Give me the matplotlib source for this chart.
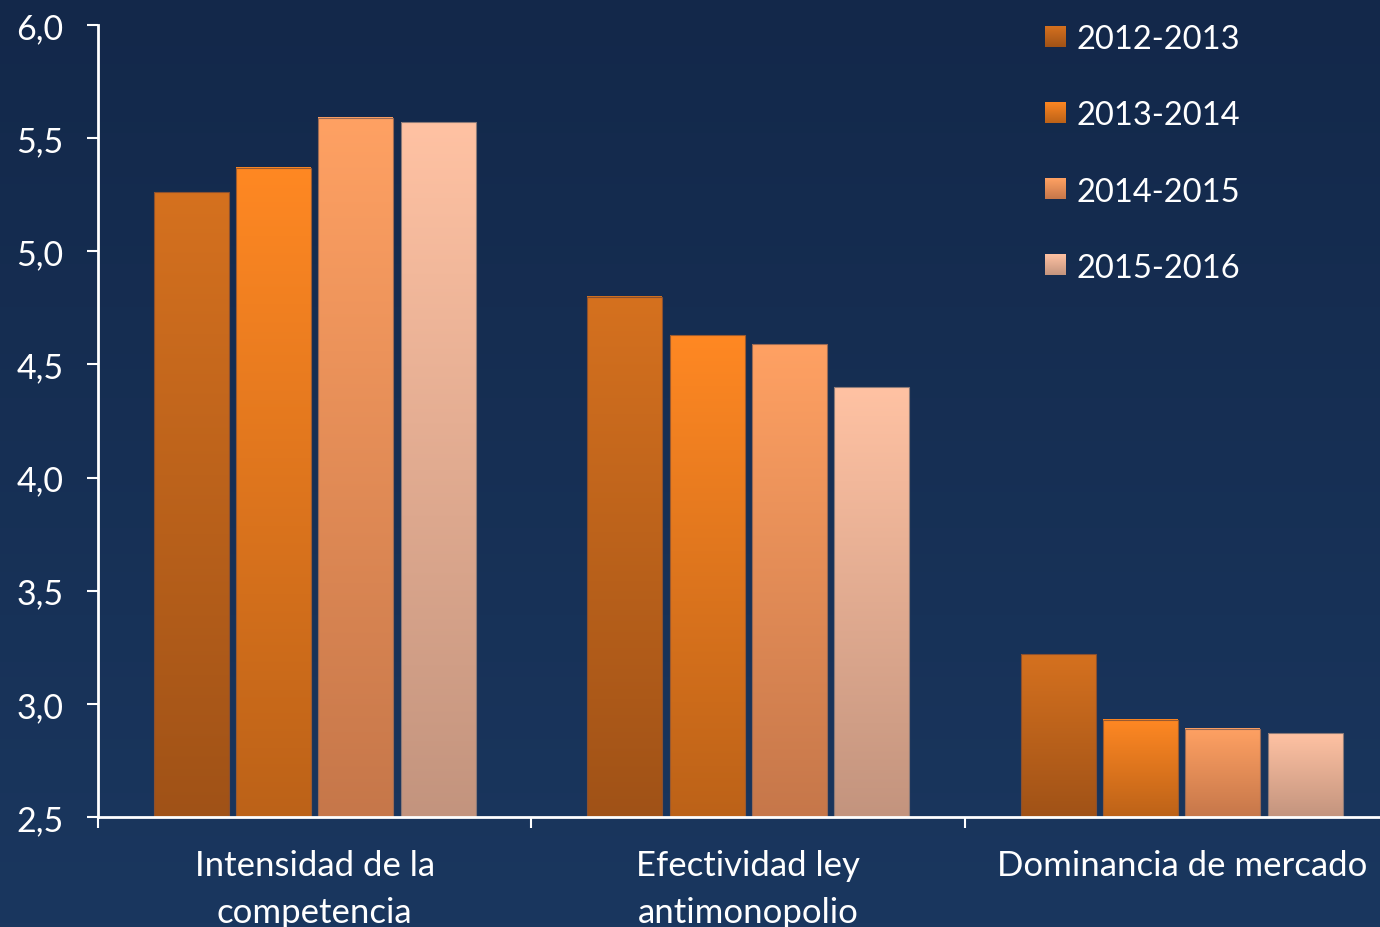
import numpy as np
import matplotlib
matplotlib.use("Agg")
import matplotlib.pyplot as plt
from matplotlib.colors import LinearSegmentedColormap
from matplotlib.transforms import blended_transform_factory

# ---- data ----
categories = ["Intensidad de la\ncompetencia", "Efectividad ley\nantimonopolio", "Dominancia de mercado"]
periods = ["2012-2013", "2013-2014", "2014-2015", "2015-2016"]
values_2012_2013 = [5.26, 4.80, 3.22]
values_2013_2014 = [5.37, 4.63, 2.93]
values_2014_2015 = [5.59, 4.59, 2.89]
values_2015_2016 = [5.57, 4.40, 2.87]
series = [values_2012_2013, values_2013_2014, values_2014_2015, values_2015_2016]
y_ticks = [2.5, 3.0, 3.5, 4.0, 4.5, 5.0, 5.5, 6.0]

# top / bottom colours of each series' vertical gradient
grad_colors = [("#D5711F", "#A05217"),
               ("#FF8823", "#BC6218"),
               ("#FFA163", "#C6774A"),
               ("#FFC2A3", "#C3947E")]
edge_colors = ["#8A5030", "#9A5A30", "#9A6A55", "#8C7A78"]

FONT = "Lato"
plt.rcParams["font.family"] = [FONT, "DejaVu Sans"]

W, H = 1380, 928
fig = plt.figure(figsize=(W / 100, H / 100), dpi=100)

# background gradient over the whole figure
bg = fig.add_axes([0, 0, 1, 1], zorder=-10)
bg_cmap = LinearSegmentedColormap.from_list("bg", ["#1A375F", "#13284A"])
bg.imshow(np.linspace(0, 1, 256).reshape(-1, 1), cmap=bg_cmap, aspect="auto",
          origin="lower", extent=(0, 1, 0, 1))
bg.set_axis_off()

ymin, ymax = 2.5, 6.0
ax_left, ax_right = 98 / W, (98 + 3 * 433.5) / W
ax_bottom, ax_top = (H - 818) / H, (H - 26) / H
ax = fig.add_axes([ax_left, ax_bottom, ax_right - ax_left, ax_top - ax_bottom])
ax.patch.set_alpha(0)

n = len(periods)
step = 0.19
width = 0.173
centers = np.arange(len(categories)) + 0.5
grad = np.linspace(0, 1, 256).reshape(-1, 1)

for i, (vals, (ctop, cbot), ec) in enumerate(zip(series, grad_colors, edge_colors)):
    cmap = LinearSegmentedColormap.from_list(f"s{i}", [cbot, ctop])
    xs = centers + (i - (n - 1) / 2) * step
    bars = ax.bar(xs, np.array(vals) - ymin, bottom=ymin, width=width,
                  facecolor="none", edgecolor=ec, linewidth=0.8, zorder=3)
    for b in bars:
        x0, y0 = b.get_x(), b.get_y()
        ax.imshow(grad, cmap=cmap, aspect="auto", origin="lower",
                  extent=(x0, x0 + b.get_width(), y0, y0 + b.get_height()), zorder=2)

ax.set_xlim(0, len(categories))
ax.set_ylim(ymin, ymax)

for side in ["top", "right"]:
    ax.spines[side].set_visible(False)
for side in ["left", "bottom"]:
    ax.spines[side].set_color("white")
    ax.spines[side].set_linewidth(2)
    ax.spines[side].set_zorder(5)

ax.set_yticks(y_ticks)
ax.set_yticklabels([f"{t:.1f}".replace(".", ",") for t in y_ticks])
ax.tick_params(axis="y", direction="out", length=8, width=1.5, color="white",
               labelcolor="white", labelsize=24.5, pad=17)
ax.set_xticks(np.arange(len(categories) + 1)[:-1])
ax.set_xticklabels([])
ax.tick_params(axis="x", direction="out", length=8, width=1.5, color="white")

trans = blended_transform_factory(ax.transData, ax.transAxes)
for c, lab in zip(centers, categories):
    ax.text(c, -0.041, lab, transform=trans, ha="center", va="top",
            color="white", fontsize=25, linespacing=1.55)

# legend: gradient squares with labels
sq = 21
for i, (p, (ctop, cbot)) in enumerate(zip(periods, grad_colors)):
    cy = 37 + i * 76.3
    lax = fig.add_axes([1045 / W, (H - cy - sq / 2) / H, sq / W, sq / H])
    cmap = LinearSegmentedColormap.from_list(f"l{i}", [cbot, ctop])
    lax.imshow(grad, cmap=cmap, aspect="auto", origin="lower")
    lax.set_axis_off()
    fig.text(1076 / W, (H - cy) / H, p, color="white", fontsize=23.5,
             ha="left", va="center_baseline")

fig.savefig("out.png", dpi=100)
